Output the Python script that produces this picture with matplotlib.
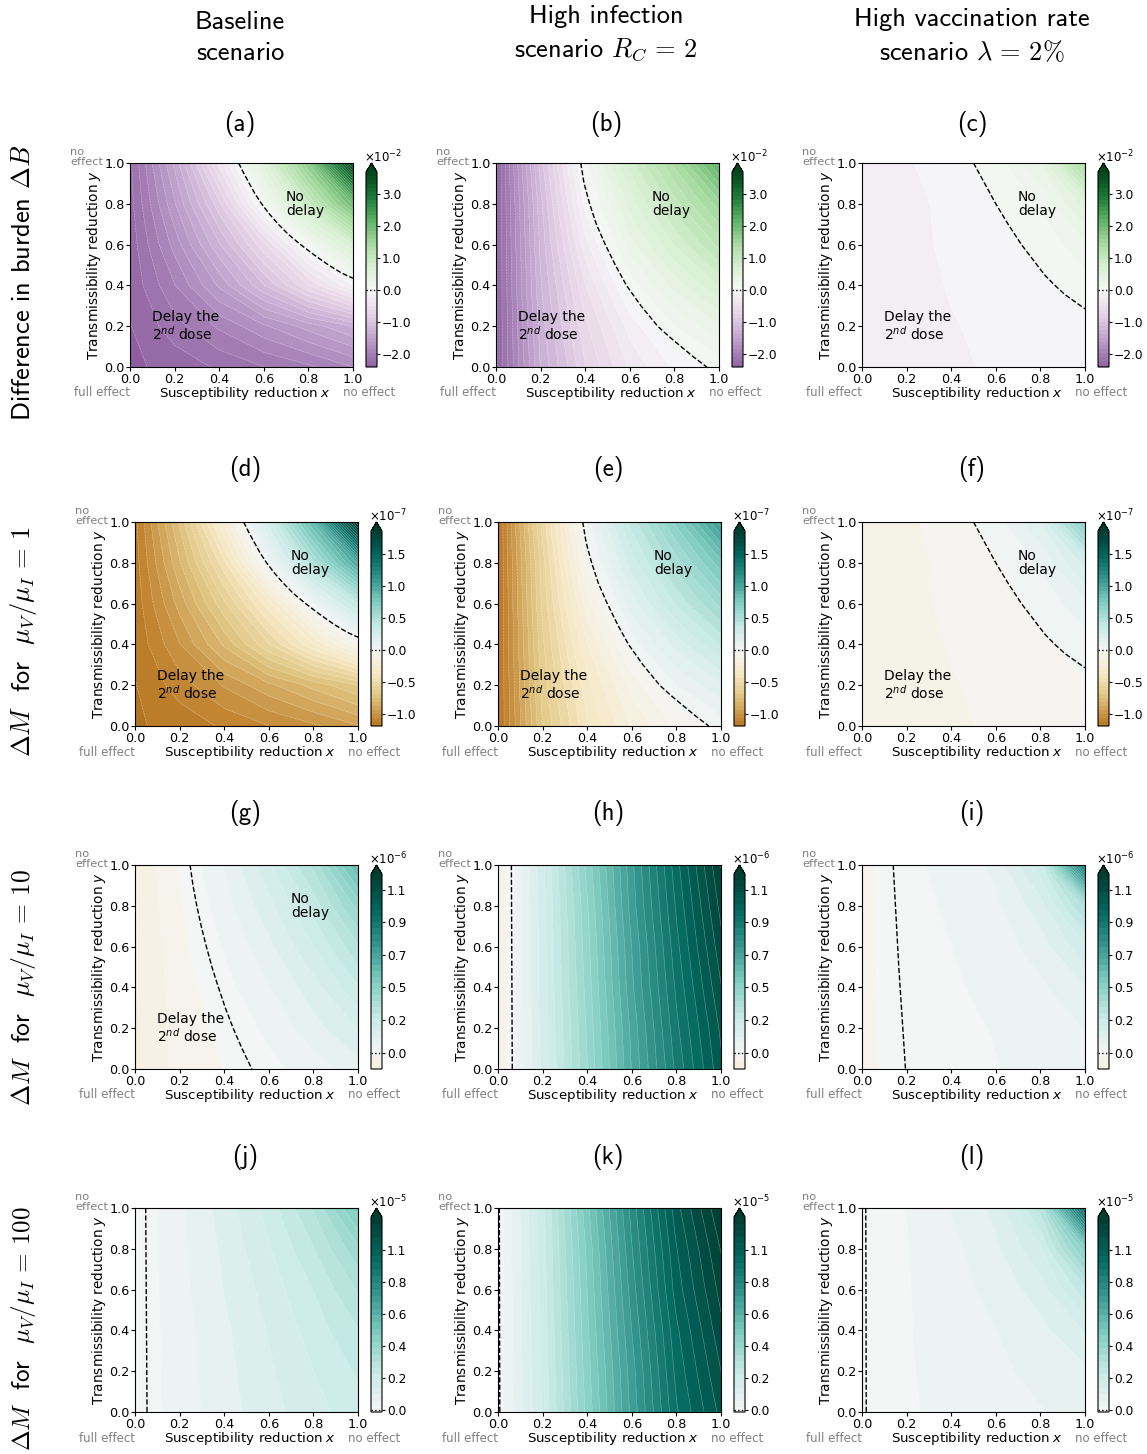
import numpy as np
import matplotlib
matplotlib.use("Agg")
import matplotlib.pyplot as plt
from matplotlib.colors import Normalize

W, H = 1147, 1454

# grid the values were read on, rows are y, columns are x
grid_x = [0.0, 0.2, 0.4, 0.6, 0.8, 1.0]
grid_y = [0.0, 0.2, 0.4, 0.6, 0.8, 1.0]

# difference in burden, x 1e-2
panel_a = [[-2.37, -2.30, -2.20, -2.10, -2.00, -1.85],
           [-2.35, -2.15, -1.95, -1.75, -1.55, -1.35],
           [-2.32, -1.98, -1.58, -1.12, -0.62, -0.12],
           [-2.30, -1.80, -1.25, -0.65, 0.08, 0.75],
           [-2.27, -1.62, -0.90, 0.08, 0.95, 2.00],
           [-2.25, -1.45, -0.45, 0.55, 1.75, 3.80]]
panel_b = [[-2.37, -1.35, -0.75, -0.35, -0.10, 0.03],
           [-2.37, -1.30, -0.65, -0.20, 0.12, 0.35],
           [-2.37, -1.25, -0.50, 0.05, 0.42, 0.75],
           [-2.37, -1.20, -0.30, 0.32, 0.75, 1.15],
           [-2.37, -1.15, -0.08, 0.55, 1.05, 1.55],
           [-2.37, -1.05, 0.08, 0.80, 1.40, 2.15]]
panel_c = [[-0.23, -0.19, -0.14, -0.11, -0.08, -0.05],
           [-0.225, -0.18, -0.13, -0.10, -0.06, -0.02],
           [-0.22, -0.17, -0.115, -0.08, -0.03, 0.06],
           [-0.215, -0.16, -0.10, -0.03, 0.03, 0.22],
           [-0.21, -0.155, -0.095, -0.005, 0.14, 0.55],
           [-0.205, -0.14, -0.04, 0.06, 0.38, 1.45]]

# mortality difference, mu_V/mu_I = 1, x 1e-7
panel_d = [[-1.18, -1.15, -1.10, -1.05, -1.00, -0.93],
           [-1.175, -1.08, -0.98, -0.88, -0.78, -0.68],
           [-1.16, -0.99, -0.79, -0.56, -0.31, -0.06],
           [-1.15, -0.90, -0.63, -0.33, 0.04, 0.38],
           [-1.14, -0.81, -0.45, 0.04, 0.48, 1.00],
           [-1.13, -0.73, -0.23, 0.28, 0.88, 1.92]]
panel_e = [[-1.18, -0.68, -0.38, -0.18, -0.05, 0.02],
           [-1.18, -0.65, -0.33, -0.10, 0.06, 0.18],
           [-1.18, -0.63, -0.25, 0.03, 0.21, 0.38],
           [-1.18, -0.60, -0.15, 0.16, 0.38, 0.58],
           [-1.18, -0.58, -0.04, 0.28, 0.53, 0.78],
           [-1.18, -0.53, 0.04, 0.40, 0.70, 1.08]]
panel_f = [[-0.115, -0.095, -0.07, -0.055, -0.04, -0.025],
           [-0.113, -0.09, -0.065, -0.05, -0.03, -0.008],
           [-0.11, -0.085, -0.058, -0.04, -0.015, 0.03],
           [-0.108, -0.08, -0.05, -0.03, 0.015, 0.11],
           [-0.105, -0.078, -0.048, -0.01, 0.07, 0.27],
           [-0.103, -0.073, -0.035, 0.03, 0.19, 0.72]]

# mu_V/mu_I = 10, x 1e-6
panel_g = [[-0.115, -0.05, -0.02, 0.01, 0.04, 0.09],
           [-0.113, -0.045, -0.01, 0.03, 0.09, 0.15],
           [-0.11, -0.042, 0.007, 0.06, 0.13, 0.23],
           [-0.11, -0.035, 0.025, 0.095, 0.19, 0.31],
           [-0.108, -0.028, 0.045, 0.135, 0.25, 0.42],
           [-0.105, -0.02, 0.065, 0.18, 0.33, 0.58]]
panel_h = [[-0.07, 0.16, 0.40, 0.66, 0.88, 1.07],
           [-0.07, 0.165, 0.41, 0.67, 0.90, 1.09],
           [-0.07, 0.17, 0.42, 0.69, 0.92, 1.12],
           [-0.07, 0.17, 0.43, 0.70, 0.94, 1.15],
           [-0.07, 0.175, 0.44, 0.72, 0.96, 1.18],
           [-0.07, 0.18, 0.46, 0.73, 0.98, 1.21]]
panel_i = [[-0.035, 0.001, 0.011, 0.02, 0.032, 0.05],
           [-0.035, 0.004, 0.013, 0.023, 0.038, 0.065],
           [-0.035, 0.007, 0.017, 0.03, 0.055, 0.105],
           [-0.035, 0.01, 0.021, 0.04, 0.085, 0.18],
           [-0.035, 0.012, 0.025, 0.055, 0.13, 0.33],
           [-0.035, 0.015, 0.03, 0.075, 0.22, 0.92]]

# mu_V/mu_I = 100, x 1e-5
panel_j = [[-0.01, 0.042, 0.09, 0.135, 0.18, 0.22],
           [-0.01, 0.044, 0.095, 0.145, 0.195, 0.245],
           [-0.01, 0.046, 0.10, 0.155, 0.215, 0.28],
           [-0.01, 0.05, 0.11, 0.17, 0.24, 0.33],
           [-0.01, 0.053, 0.118, 0.19, 0.28, 0.40],
           [-0.01, 0.056, 0.128, 0.215, 0.33, 0.52]]
panel_k = [[-0.005, 0.20, 0.47, 0.73, 0.97, 1.12],
           [-0.005, 0.205, 0.48, 0.74, 0.99, 1.15],
           [-0.005, 0.21, 0.49, 0.76, 1.01, 1.18],
           [-0.005, 0.215, 0.50, 0.78, 1.04, 1.21],
           [-0.005, 0.22, 0.51, 0.80, 1.06, 1.24],
           [-0.005, 0.225, 0.53, 0.82, 1.09, 1.28]]
panel_l = [[-0.002, 0.015, 0.037, 0.052, 0.063, 0.075],
           [-0.002, 0.017, 0.04, 0.058, 0.075, 0.10],
           [-0.002, 0.018, 0.043, 0.065, 0.095, 0.155],
           [-0.002, 0.019, 0.047, 0.08, 0.13, 0.27],
           [-0.002, 0.02, 0.052, 0.10, 0.19, 0.48],
           [-0.002, 0.022, 0.068, 0.12, 0.30, 1.05]]

# dashed zero lines
zero_a = ([0.487, 0.51, 0.535, 0.56, 0.59, 0.625, 0.665, 0.71, 0.765, 0.825, 0.89, 0.95, 1.0],
          [1.0, 0.95, 0.9, 0.85, 0.8, 0.75, 0.7, 0.65, 0.6, 0.55, 0.5, 0.46, 0.435])
zero_b = ([0.38, 0.395, 0.42, 0.45, 0.49, 0.535, 0.585, 0.65, 0.725, 0.775, 0.83, 0.885, 0.945],
          [1.0, 0.9, 0.8, 0.7, 0.6, 0.5, 0.4, 0.3, 0.2, 0.15, 0.1, 0.05, 0.0])
zero_c = ([0.5, 0.525, 0.55, 0.575, 0.6, 0.655, 0.715, 0.785, 0.82, 0.865, 0.91, 0.955, 1.0],
          [1.0, 0.95, 0.9, 0.85, 0.8, 0.7, 0.6, 0.5, 0.45, 0.4, 0.355, 0.32, 0.285])
zero_g = ([0.247, 0.26, 0.277, 0.297, 0.32, 0.345, 0.374, 0.405, 0.44, 0.48, 0.524],
          [1.0, 0.9, 0.8, 0.7, 0.6, 0.5, 0.4, 0.3, 0.2, 0.1, 0.0])
zero_h = ([0.06, 0.064], [1.0, 0.0])
zero_i = ([0.14, 0.165, 0.195], [1.0, 0.5, 0.0])
zero_j = ([0.048, 0.054], [1.0, 0.0])
zero_k = ([0.006, 0.008], [1.0, 0.0])
zero_l = ([0.017, 0.019], [1.0, 0.0])

panels = [panel_a, panel_b, panel_c, panel_d, panel_e, panel_f,
          panel_g, panel_h, panel_i, panel_j, panel_k, panel_l]
zero_lines = [zero_a, zero_b, zero_c, zero_a, zero_b, zero_c,
              zero_g, zero_h, zero_i, zero_j, zero_k, zero_l]
panel_names = ["(a)", "(b)", "(c)", "(d)", "(e)", "(f)", "(g)", "(h)", "(i)", "(j)", "(k)", "(l)"]

# per row colour setup
row_cmaps = ["PRGn", "BrBG", "BrBG", "BrBG"]
row_vmax = [3.7, 1.85, 1.25, 1.28]
row_vmin = [-2.4, -1.18, -0.115, -0.01]
row_nlevels = [61, 61, 60, 60]
row_exp = ["$\\times 10^{-2}$", "$\\times 10^{-7}$", "$\\times 10^{-6}$", "$\\times 10^{-5}$"]
row_ticks = [[-2.0, -1.0, 0.0, 1.0, 2.0, 3.0],
             [-1.0, -0.5, 0.0, 0.5, 1.0, 1.5],
             [0.0, 0.228, 0.456, 0.684, 0.912, 1.14],
             [0.0, 0.212, 0.424, 0.636, 0.848, 1.06]]
row_ticklabels = [["\u22122.0", "\u22121.0", "0.0", "1.0", "2.0", "3.0"],
                  ["\u22121.0", "\u22120.5", "0.0", "0.5", "1.0", "1.5"],
                  ["0.0", "0.2", "0.5", "0.7", "0.9", "1.1"],
                  ["0.0", "0.2", "0.4", "0.6", "0.8", "1.1"]]

col_titles = [("Baseline\nscenario", 240, 38),
              ("High infection\nscenario $R_C\\,=\\,2$", 606, 34),
              ("High vaccination rate\nscenario $\\lambda\\,=\\,2\\%$", 972, 37)]
row_titles = [("Difference in burden $\\Delta B$", 283, 19),
              ("$\\Delta M$  for  $\\mu_V/\\mu_I\\,=\\,1$", 642, 19),
              ("$\\Delta M$  for  $\\mu_V/\\mu_I\\,=\\,10$", 987, 18.4),
              ("$\\Delta M$  for  $\\mu_V/\\mu_I\\,=\\,100$", 1329, 18)]

# layout in pixels
row_top = [163, 522, 865, 1208]
row_lefts = [[130, 496, 862], [135, 498, 862], [135, 498, 862], [135, 498, 862]]
row_name_y = [124, 469, 813, 1157]
name_x = [[240, 606, 972], [245, 608, 972], [245, 608, 972], [245, 608, 972]]
ax_w, ax_h = 223, 204

# which panels carry the region labels
no_delay_panels = [0, 1, 2, 3, 4, 5, 6]
delay_panels = [0, 1, 2, 3, 4, 5, 6]


def px_rect(left, top, w, h):
    return [left / W, 1 - (top + h) / H, w / W, h / H]


fig = plt.figure(figsize=(W / 100, H / 100), dpi=100)
X, Y = np.meshgrid(grid_x, grid_y)

for r in range(4):
    levels = np.linspace(-row_vmax[r], row_vmax[r], row_nlevels[r])
    step = levels[1] - levels[0]
    levels = levels[levels >= row_vmin[r] - step]
    for c in range(3):
        i = r * 3 + c
        left = row_lefts[r][c]
        norm = Normalize(-row_vmax[r], row_vmax[r])
        ax = fig.add_axes(px_rect(left, row_top[r], ax_w, ax_h))
        Z = np.array(panels[i])
        cf = ax.contourf(X, Y, Z, levels=levels, cmap=row_cmaps[r], norm=norm, extend="max")
        ax.contour(X, Y, Z, levels=levels, colors="white", linewidths=0.4, alpha=0.4)
        ax.plot(zero_lines[i][0], zero_lines[i][1], color="black", ls="--", lw=1)
        ax.set_xlim(0, 1)
        ax.set_ylim(0, 1)
        ax.set_xticks([0, 0.2, 0.4, 0.6, 0.8, 1.0])
        ax.set_yticks([0, 0.2, 0.4, 0.6, 0.8, 1.0])
        ax.tick_params(labelsize=9.2, pad=1, length=3)
        ax.set_xlabel("Susceptibility reduction $x$", fontsize=9.6)
        ax.set_ylabel("Transmissibility reduction $y$", fontsize=9.8)
        ax.xaxis.set_label_coords(0.5 + 3 / ax_w, -18 / ax_h)
        ax.yaxis.set_label_coords(-27 / ax_w, 0.5)

        ax.annotate("full effect", xy=(0, 0), xycoords="axes fraction", xytext=(0, -26),
                    textcoords="offset pixels", ha="right", va="center", fontsize=8.5, color="gray")
        ax.annotate("no effect", xy=(1, 0), xycoords="axes fraction", xytext=(-10, -26),
                    textcoords="offset pixels", ha="left", va="center", fontsize=8.5, color="gray")
        ax.annotate("no\neffect", xy=(0, 1), xycoords="axes fraction", xytext=(-60, 6),
                    textcoords="offset pixels", ha="left", va="center", fontsize=8.2, color="gray",
                    linespacing=1.0)

        if i in no_delay_panels:
            ax.text(0.7, 0.8, "No\ndelay", fontsize=10, va="center", linespacing=1.05)
        if i in delay_panels:
            ax.text(0.1, 0.2, "Delay the\n2$^{nd}$ dose", fontsize=10, va="center", linespacing=1.05)

        cax = fig.add_axes(px_rect(left + 236, row_top[r], 11, ax_h))
        cb = fig.colorbar(cf, cax=cax, extend="max", extendfrac=9 / 195, spacing="proportional")
        cb.ax.set_ylim(row_vmin[r], row_vmax[r])
        cb.set_ticks(row_ticks[r], labels=row_ticklabels[r])
        cb.ax.tick_params(labelsize=8.8, pad=1, length=2.5)
        cb.ax.axhline(0, color="black", ls=":", lw=1)
        cax.annotate(row_exp[r], xy=(0, 1), xycoords="axes fraction", xytext=(-2, 15),
                     textcoords="offset pixels", ha="left", va="center", fontsize=8.5,
                     annotation_clip=False)

        fig.text(name_x[r][c] / W, 1 - row_name_y[r] / H, panel_names[i], fontsize=18,
                 family="cmss10", ha="center", va="center")

for title, x_px, y_px in col_titles:
    fig.text(x_px / W, 1 - y_px / H, title, fontsize=19, family="cmss10", math_fontfamily="cm",
             ha="center", va="center", linespacing=1.4)

for title, y_px, size in row_titles:
    fig.text(24 / W, 1 - y_px / H, title, fontsize=size, family="cmss10", math_fontfamily="cm",
             rotation=90, ha="center", va="center")

fig.savefig("out.png", dpi=100)
